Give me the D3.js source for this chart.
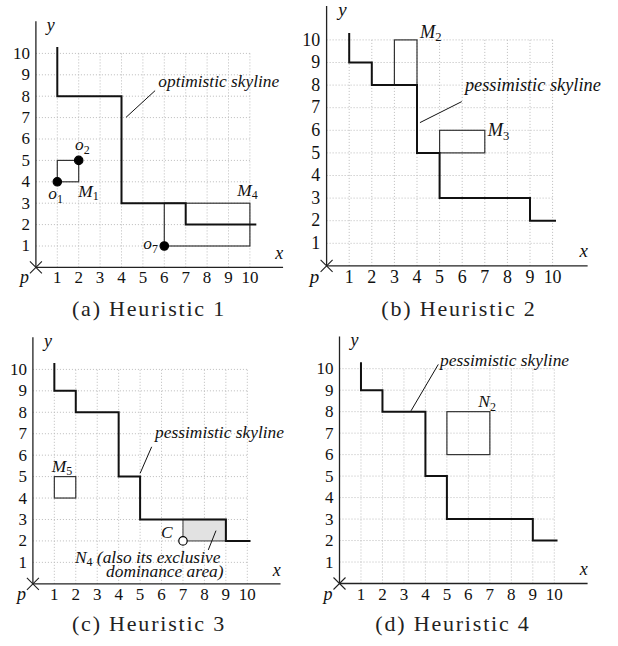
<!DOCTYPE html>
<meta charset="utf-8">
<script src="https://d3js.org/d3.v7.min.js"></script>
<style>
  body { margin: 0; background: #fff; }
</style>
<div id="chart"></div>
<script>

// tick labels, shared by all four panels
var xTicks = [1, 2, 3, 4, 5, 6, 7, 8, 9, 10];
var yTicks = [1, 2, 3, 4, 5, 6, 7, 8, 9, 10];

// skylines (step lines)
var optimisticSkyline = [[1, 10.3], [1, 8], [4, 8], [4, 3], [7, 3], [7, 2], [10.3, 2]];
var pessimisticSkyline = [[1, 10.3], [1, 9], [2, 9], [2, 8], [4, 8], [4, 5], [5, 5], [5, 3], [9, 3], [9, 2], [10.15, 2]];

// rectangles per panel [x0, y0, x1, y1]
var boxesA = [[1, 4, 2, 5], [6, 1, 10, 3]];
var boxesB = [[3, 8, 4, 10], [5, 5, 7, 6]];
var boxesC = [[1, 4, 2, 5]];
var shadedC = [[7, 2, 9, 3]];
var boxesD = [[5, 6, 7, 8]];

// objects (points)
var pointsA = [[1, 4], [2, 5], [6, 1]];
var pointsC = [[7, 2]];

// labels: [x, y, main, subscript, trailing]
var labelsA = [[0.58, 3.18, "o", "1"], [1.83, 5.48, "o", "2"], [1.98, 3.3, "M", "1"], [9.41, 3.34, "M", "4"], [5.02, 0.85, "o", "7"], [5.72, 8.42, "optimistic skyline", ""]];
var labelsB = [[4.13, 10.1, "M", "2"], [7.13, 5.75, "M", "3"], [6.12, 7.75, "pessimistic skyline", ""]];
var labelsC = [[0.88, 5.23, "M", "5"], [5.97, 2.12, "C", ""], [5.7, 6.79, "pessimistic skyline", ""],
               [1.96, 0.98, "N", "4", " (also its  exclusive"], [3.41, 0.3, "dominance area)", ""]];
var labelsD = [[6.46, 8.2, "N", "2"], [4.68, 10.13, "pessimistic skyline", ""]];

// leader lines [x0, y0, x1, y1]
var leadersA = [[4.21, 7.01, 5.57, 8.26]];
var leadersB = [[4.13, 6.34, 5.98, 7.27]];
var leadersC = [[5.0, 5.15, 5.54, 6.39], [8.18, 1.58, 8.54, 2.48]];
var leadersD = [[3.33, 8.04, 4.6, 10.2]];

var serif = "'Liberation Serif', 'Times New Roman', serif";

var panels = [
  { ox: 35.9, oy: 267.4, unit: 21.4, capX: 149, capY: 316, caption: "(a) Heuristic 1",
    skyline: optimisticSkyline, boxes: boxesA, shaded: [], points: pointsA, open: false, labels: labelsA, leaders: leadersA },
  { ox: 326.6, oy: 265.9, unit: 22.6, capX: 459, capY: 316, caption: "(b) Heuristic 2",
    skyline: pessimisticSkyline, boxes: boxesB, shaded: [], points: [], open: false, labels: labelsB, leaders: leadersB },
  { ox: 32.9, oy: 583.8, unit: 21.44, capX: 149, capY: 631, caption: "(c) Heuristic 3",
    skyline: pessimisticSkyline, boxes: boxesC, shaded: shadedC, points: pointsC, open: true, labels: labelsC, leaders: leadersC },
  { ox: 339.5, oy: 583.5, unit: 21.48, capX: 453, capY: 631, caption: "(d) Heuristic 4",
    skyline: pessimisticSkyline, boxes: boxesD, shaded: [], points: [], open: false, labels: labelsD, leaders: leadersD }
];

var svg = d3.select("#chart").append("svg")
  .attr("width", 618)
  .attr("height", 646);

panels.forEach(function(p) {
  var k = p.unit / 21.45;
  var x = d3.scaleLinear().domain([0, 1]).range([p.ox, p.ox + p.unit]);
  var y = d3.scaleLinear().domain([0, 1]).range([p.oy, p.oy - p.unit]);
  var g = svg.append("g");

  // dotted grid
  g.selectAll(".gx").data(xTicks).enter().append("line")
    .attr("x1", function(d) { return x(d); }).attr("x2", function(d) { return x(d); })
    .attr("y1", y(0)).attr("y2", y(d3.max(yTicks)))
    .attr("stroke", "#bbb").attr("stroke-width", 1).attr("stroke-dasharray", "1,2");
  g.selectAll(".gy").data(yTicks).enter().append("line")
    .attr("y1", function(d) { return y(d); }).attr("y2", function(d) { return y(d); })
    .attr("x1", x(0)).attr("x2", x(d3.max(xTicks)))
    .attr("stroke", "#bbb").attr("stroke-width", 1).attr("stroke-dasharray", "1,2");

  // shaded area
  g.selectAll(".sh").data(p.shaded).enter().append("rect")
    .attr("x", function(d) { return x(d[0]); })
    .attr("y", function(d) { return y(d[3]); })
    .attr("width", function(d) { return x(d[2]) - x(d[0]); })
    .attr("height", function(d) { return y(d[1]) - y(d[3]); })
    .attr("fill", "#e2e2e2").attr("stroke", "#555").attr("stroke-width", 1.2);

  // boxes
  g.selectAll(".bx").data(p.boxes).enter().append("rect")
    .attr("x", function(d) { return x(d[0]); })
    .attr("y", function(d) { return y(d[3]); })
    .attr("width", function(d) { return x(d[2]) - x(d[0]); })
    .attr("height", function(d) { return y(d[1]) - y(d[3]); })
    .attr("fill", "none").attr("stroke", "#333").attr("stroke-width", 1.2);

  // skyline
  g.append("path")
    .datum(p.skyline)
    .attr("d", d3.line().x(function(d) { return x(d[0]); }).y(function(d) { return y(d[1]); }))
    .attr("fill", "none").attr("stroke", "#111").attr("stroke-width", 2);

  // leader lines
  g.selectAll(".ld").data(p.leaders).enter().append("line")
    .attr("x1", function(d) { return x(d[0]); }).attr("y1", function(d) { return y(d[1]); })
    .attr("x2", function(d) { return x(d[2]); }).attr("y2", function(d) { return y(d[3]); })
    .attr("stroke", "#111").attr("stroke-width", 1);

  // points
  g.selectAll(".pt").data(p.points).enter().append("circle")
    .attr("cx", function(d) { return x(d[0]); })
    .attr("cy", function(d) { return y(d[1]); })
    .attr("r", 4.2)
    .attr("fill", p.open ? "#fff" : "#000")
    .attr("stroke", "#000").attr("stroke-width", 1.2);

  // axes
  g.append("line").attr("x1", x(0)).attr("y1", y(0)).attr("x2", x(11.55)).attr("y2", y(0))
    .attr("stroke", "#222").attr("stroke-width", 1.3);
  g.append("line").attr("x1", x(0)).attr("y1", y(0)).attr("x2", x(0)).attr("y2", y(11.5))
    .attr("stroke", "#222").attr("stroke-width", 1.3);
  // cross at p
  g.append("path")
    .attr("d", "M" + (x(0) - 6) + "," + (y(0) - 6) + "L" + (x(0) + 6) + "," + (y(0) + 6) +
               "M" + (x(0) - 6) + "," + (y(0) + 6) + "L" + (x(0) + 6) + "," + (y(0) - 6))
    .attr("stroke", "#222").attr("stroke-width", 1.1);

  // tick labels
  g.selectAll(".tx").data(xTicks).enter().append("text")
    .attr("x", function(d) { return x(d); })
    .attr("y", y(0) + 16 * k)
    .attr("text-anchor", "middle")
    .style("font-family", serif).style("fill", "#111")
    .style("font-size", (17 * k) + "px")
    .text(function(d) { return d; });
  g.selectAll(".ty").data(yTicks).enter().append("text")
    .attr("x", x(0) - 6 * k)
    .attr("y", function(d) { return y(d) + 5.5 * k; })
    .attr("text-anchor", "end")
    .style("font-family", serif).style("fill", "#111")
    .style("font-size", (17 * k) + "px")
    .text(function(d) { return d; });

  // axis names
  [["y", 11 * k, -237 * k], ["x", 240 * k, -8 * k], ["p", -16 * k, 16 * k]].forEach(function(a) {
    g.append("text").attr("x", x(0) + a[1]).attr("y", y(0) + a[2])
      .style("font-family", serif).style("font-style", "italic").style("fill", "#111")
      .style("font-size", (18 * k) + "px").text(a[0]);
  });

  // labels
  p.labels.forEach(function(l) {
    var t = g.append("text")
      .attr("x", x(l[0])).attr("y", y(l[1]))
      .style("font-family", serif).style("font-style", "italic").style("fill", "#111")
      .style("font-size", (17.4 * k) + "px");
    t.append("tspan").text(l[2]);
    if (l[3]) {
      t.append("tspan").style("font-style", "normal").style("font-size", (12 * k) + "px")
        .attr("dy", 3.5 * k).text(l[3]);
    }
    if (l[4]) {
      t.append("tspan").attr("dy", -3.5 * k).text(l[4]);
    }
  });

  // caption
  svg.append("text")
    .attr("x", p.capX).attr("y", p.capY)
    .attr("text-anchor", "middle")
    .style("font-family", serif).style("fill", "#222")
    .style("letter-spacing", "1.8px")
    .style("font-size", "22px")
    .text(p.caption);
});

</script>
